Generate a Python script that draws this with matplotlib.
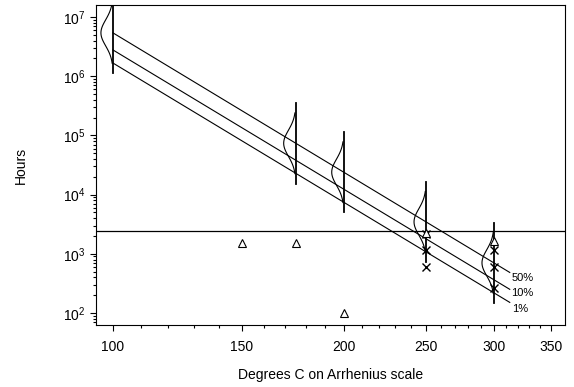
import numpy as np
import matplotlib
matplotlib.use("Agg")
import matplotlib.pyplot as plt

plt.rcParams['font.family'] = ['Liberation Sans', 'DejaVu Sans']

# Arrhenius fit lines (hours at the two end temperatures)
line_temps = [100, 313]
line_50 = [5.4e6, 484]
line_10 = [2.78e6, 251]
line_01 = [1.67e6, 151]
line_labels = ['50%', '10%', '1%']

# test temperatures, fitted median life and log10 spread
test_temps = [100, 175, 200, 250, 300]
median_hours = [5.4e6, 7.36e4, 2.39e4, 3460, 703]
sigma_log = 0.22

# observed failures (x) and runouts (triangles)
fail_temps = [250, 250, 250, 300, 300, 300]
fail_hours = [2130, 1150, 590, 1150, 590, 267]
runout_temps = [150, 175, 200, 250, 300]
runout_hours = [1500, 1500, 100, 2250, 1650]

design_life = 2400

xticks = [100, 150, 200, 250, 300, 350]
xminor = [110, 120, 130, 140, 160, 170, 180, 190, 210, 220, 230, 240,
          260, 270, 280, 290, 310, 320, 330, 340]


def fwd(t):
    return -1.0 / (np.asarray(t, dtype=float) + 273.15)


def inv(u):
    return -1.0 / np.asarray(u, dtype=float) - 273.15


fig = plt.figure(figsize=(5.74, 3.87), dpi=100)
ax = fig.add_axes([96 / 574, 62 / 387, 469 / 574, 320 / 387])
ax.set_xscale('function', functions=(fwd, inv))
ax.set_yscale('log')
xmin, xmax = 94.3, 363.6
ax.set_xlim(xmin, xmax)
ax.set_ylim(10 ** 1.797, 10 ** 7.203)

# percentile lines
offsets = [(1, -4), (1, -3), (2, -4.5)]
for vals, lab, off in zip([line_50, line_10, line_01], line_labels, offsets):
    ax.plot(line_temps, vals, color='black', lw=0.8)
    ax.annotate(lab, (line_temps[1], vals[1]), xytext=off,
                textcoords='offset points', fontsize=8,
                ha='left', va='center')

ax.axhline(design_life, color='black', lw=0.9)

# lognormal life distribution at each test temperature
peak_u = 12 / 469 * (fwd(xmax) - fwd(xmin))
z = np.linspace(-2.33, 2.33, 120)
for t, med in zip(test_temps, median_hours):
    lm = np.log10(med)
    ax.plot([t, t], [10 ** (lm - 3.09 * sigma_log), 10 ** (lm + 3.09 * sigma_log)],
            color='black', lw=1.3)
    cu = fwd(t) - peak_u * np.exp(-z ** 2 / 2)
    ax.plot(inv(cu), 10 ** (lm + z * sigma_log), color='black', lw=0.8)

ax.plot(fail_temps, fail_hours, 'x', color='black', ms=6, mew=1)
ax.plot(runout_temps, runout_hours, '^', mfc='white', mec='black', ms=6, mew=0.8)

ax.set_xticks(xticks)
ax.set_xticklabels([str(t) for t in xticks])
ax.set_xticks(xminor, minor=True)
ax.tick_params(which='both', direction='out', width=0.8, labelsize=10)
ax.tick_params(which='major', length=4)
ax.tick_params(which='minor', length=2.2)
ax.tick_params(axis='x', which='major', pad=7)

for s in ax.spines.values():
    s.set_linewidth(0.8)

ax.set_xlabel('Degrees C on Arrhenius scale', fontsize=10, labelpad=10)
ax.set_ylabel('Hours', fontsize=10, labelpad=25)

fig.savefig('out.png', dpi=100)
